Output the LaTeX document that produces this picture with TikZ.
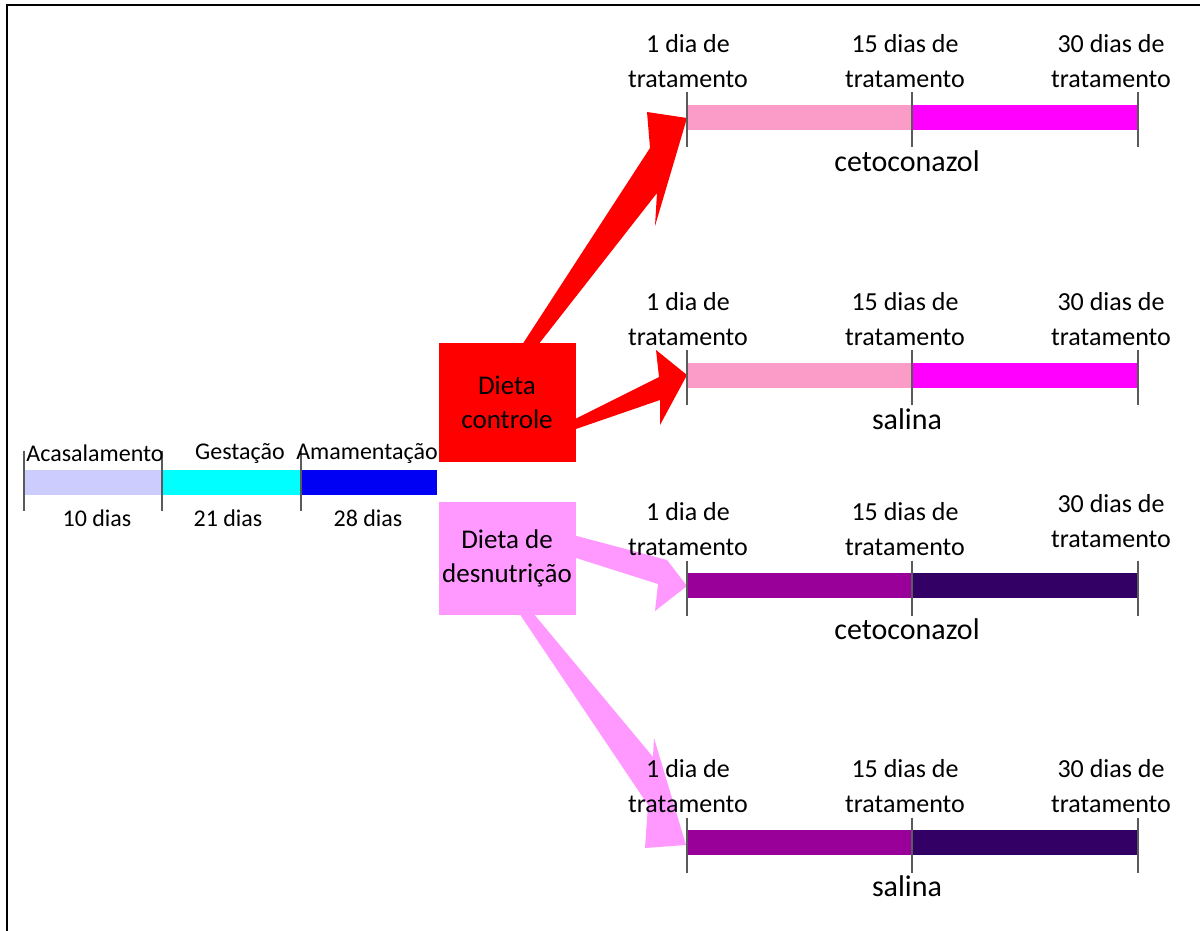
\documentclass[tikz,border=0pt]{standalone}
\usepackage{fontspec}
\setmainfont{Carlito}
\definecolor{lav}{RGB}{204,204,255}
\definecolor{cyanb}{RGB}{0,255,255}
\definecolor{blueb}{RGB}{0,0,245}
\definecolor{redb}{RGB}{255,0,0}
\definecolor{pinkbox}{RGB}{255,153,255}
\definecolor{pinkbar}{RGB}{250,155,200}
\definecolor{magbar}{RGB}{255,0,255}
\definecolor{purbar}{RGB}{153,0,153}
\definecolor{dpurbar}{RGB}{51,0,102}
\definecolor{tickgray}{RGB}{90,90,90}
\begin{document}
\begin{tikzpicture}[x=1pt,y=-1pt,
  lbl/.style={font=\fontsize{26}{35}\selectfont, align=center, inner sep=0pt},
  tlbl/.style={font=\fontsize{24}{28}\selectfont, inner sep=0pt},
  dlbl/.style={font=\fontsize{30}{36}\selectfont, inner sep=0pt},
  tickline/.style={draw=tickgray, line width=1.2pt},
  dietbox/.style={minimum width=137pt, minimum height=119pt, inner sep=0pt, align=center,
    font=\fontsize{27}{34}\selectfont}]
\useasboundingbox (0,0) rectangle (1200,931);
\fill[white] (0,0) rectangle (1200,931);
\draw[line width=2pt] (1200,5) -- (7,5) -- (7,931);

% left timeline
\fill[lav] (24,470) rectangle (162,495);
\fill[cyanb] (162,470) rectangle (301,495);
\fill[blueb] (301,470) rectangle (437,495);
\foreach \x in {24,162,301} \draw[tickline] (\x,451) -- (\x,511);
\node[tlbl] (acas) at (95,453) {Acasalamento};
\node[tlbl] (gest) at (240,453) {Gestação};
\node[tlbl] (amam) at (367,453) {Amamentação};
\node[tlbl] (d10) at (97,518) {10 dias};
\node[tlbl] (d21) at (228,518) {21 dias};
\node[tlbl] (d28) at (368,518) {28 dias};

% arrows (drawn before the boxes)
\coordinate (t1) at (687,118);
\coordinate (t2) at (687,375);
\coordinate (t3) at (687,586);
\coordinate (t4) at (686,845);
\fill[redb] (522,345) -- (650,148) -- (647,112) -- (t1) -- (655,226) -- (657,193) -- (538,345) -- cycle;
\fill[redb] (573,420) -- (659,377) -- (656,350) -- (t2) -- (660,425) -- (660,400) -- (573,430) -- cycle;
\fill[pinkbox] (573,535) -- (667,560) -- (t3) -- (655,611) -- (658,584) -- (573,557) -- cycle;
\fill[pinkbox] (519,613) -- (533,613) -- (653,757) -- (654,738) -- (t4) -- (645,848) -- (648,805) -- cycle;

% diet boxes
\node[dietbox, fill=redb] (ctrl) at (507,402.5) {Dieta\\controle};
\node[dietbox, fill=pinkbox, minimum height=113pt] (desn) at (507,558.5) {Dieta de\\desnutrição};

% treatment rows
\foreach \yc/\ca/\cb/\lab/\i/\dy in {117.5/pinkbar/magbar/cetoconazol/1/0, 375/pinkbar/magbar/salina/2/0, 585.5/purbar/dpurbar/cetoconazol/3/-8, 842.5/purbar/dpurbar/salina/4/0}{
  \fill[\ca] (687,\yc-12.5) rectangle (912,\yc+12.5);
  \fill[\cb] (912,\yc-12.5) rectangle (1138,\yc+12.5);
  \foreach \x in {687,912,1138} \draw[tickline] (\x,\yc-25) -- (\x,\yc+30);
  \node[lbl] (a\i) at (688,\yc-56) {1 dia de\\tratamento};
  \node[lbl] (b\i) at (905,\yc-56) {15 dias de\\tratamento};
  \node[lbl] (c\i) at (1111,\yc-56+\dy) {30 dias de\\tratamento};
  \node[dlbl] (s\i) at (907,\yc+44) {\lab};
}
\end{tikzpicture}
\end{document}
